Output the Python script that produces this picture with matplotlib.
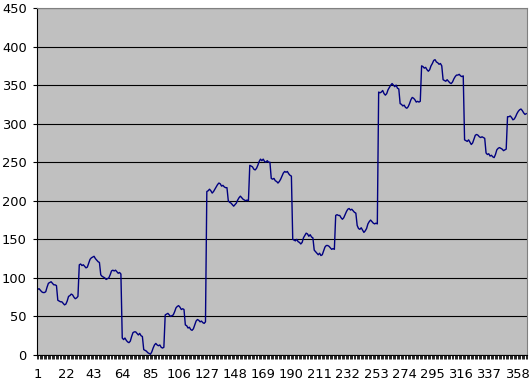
import matplotlib
matplotlib.use("Agg")
import matplotlib.pyplot as plt
import numpy as np

# values, one list per stretch of the series
days_001_031 = [85, 86, 84, 82, 81, 81, 82,
                88, 93, 94, 95, 93, 91, 91, 90,
                71, 70, 69, 69, 67, 65, 66, 70,
                76, 77, 79, 78, 75, 73, 74, 76]
days_032_063 = [117, 118, 116, 117, 115, 113, 114, 119,
                124, 126, 127, 128, 125, 123, 121, 120,
                104, 102, 101, 100, 98, 99, 100, 104,
                109, 110, 109, 110, 108, 106, 107, 105]
days_064_095 = [22, 20, 22, 19, 17, 16, 18, 24,
                29, 30, 30, 28, 26, 28, 25, 24,
                7, 6, 5, 3, 2, 1, 4, 9,
                13, 15, 13, 12, 13, 10, 9, 10]
days_096_126 = [52, 53, 54, 52, 50, 51, 52, 56,
                61, 63, 64, 62, 59, 60, 59,
                39, 38, 35, 36, 33, 32, 34, 39,
                44, 46, 45, 43, 44, 42, 41, 43]
days_127_158 = [212, 213, 215, 213, 210, 212, 215, 218,
                221, 223, 222, 219, 220, 218, 217, 217,
                200, 198, 197, 195, 193, 195, 197, 201,
                204, 206, 204, 202, 201, 200, 201, 200]
days_159_190 = [246, 245, 244, 241, 240, 242, 246, 251,
                254, 252, 254, 251, 250, 252, 250, 250,
                229, 228, 229, 226, 225, 223, 225, 228,
                232, 236, 238, 237, 238, 235, 233, 232]
days_191_222 = [150, 149, 148, 150, 147, 146, 144, 146,
                152, 155, 158, 157, 154, 156, 153, 152,
                136, 134, 132, 130, 132, 129, 130, 135,
                140, 142, 142, 141, 139, 137, 138, 137]
days_223_254 = [181, 182, 181, 181, 178, 176, 178, 182,
                186, 189, 190, 188, 189, 187, 185, 184,
                168, 164, 163, 165, 162, 159, 161, 164,
                170, 173, 175, 173, 171, 170, 171, 170]
days_255_286 = [341, 340, 341, 343, 339, 337, 339, 344,
                347, 350, 352, 350, 348, 350, 346, 345,
                326, 325, 323, 324, 321, 320, 322, 326,
                331, 334, 333, 331, 328, 329, 328, 329]
days_287_318 = [375, 374, 372, 373, 370, 368, 370, 375,
                378, 382, 383, 380, 379, 377, 378, 375,
                357, 356, 355, 357, 355, 353, 352, 354,
                358, 361, 363, 363, 364, 362, 361, 362]
days_319_350 = [279, 278, 277, 279, 276, 273, 275, 280,
                285, 286, 285, 283, 282, 283, 282, 281,
                262, 260, 261, 258, 259, 257, 256, 260,
                266, 268, 269, 268, 267, 265, 266, 267]
days_351_365 = [309, 309, 310, 308, 305, 306, 309, 313,
                316, 318, 319, 317, 314, 312, 313]

x_labels = [1, 22, 43, 64, 85, 106, 127, 148, 169, 190,
            211, 232, 253, 274, 295, 316, 337, 358]
y_ticks = [0, 50, 100, 150, 200, 250, 300, 350, 400, 450]

values = (days_001_031 + days_032_063 + days_064_095 + days_096_126
          + days_127_158 + days_159_190 + days_191_222 + days_223_254
          + days_255_286 + days_287_318 + days_319_350 + days_351_365)
days = np.arange(1, len(values) + 1)

fig = plt.figure(figsize=(5.30, 3.84), dpi=100)
ax = fig.add_axes([37 / 530, 29 / 384, 490 / 530, 347 / 384])
ax.set_facecolor('#c0c0c0')

ax.plot(days, values, color='#000080', lw=1.0)

ax.set_xlim(0.5, len(values) + 0.5)
ax.set_ylim(0, 450)
ax.set_yticks(y_ticks)
ax.yaxis.grid(True, color='black', lw=0.8)
ax.set_axisbelow(True)

ax.set_xticks(x_labels)
ax.set_xticklabels([str(v) for v in x_labels])
ax.set_xticks(np.arange(0.5, len(values) + 1), minor=True)
ax.tick_params(axis='x', which='major', length=0, pad=9.5, labelsize=9.4)
ax.tick_params(axis='x', which='minor', length=3, width=0.6, color='black')
ax.tick_params(axis='y', length=3, width=0.8, pad=4.3, labelsize=9.4)

for side in ('top', 'right'):
    ax.spines[side].set_color('#808080')
    ax.spines[side].set_linewidth(0.8)
for side in ('left', 'bottom'):
    ax.spines[side].set_color('black')
    ax.spines[side].set_linewidth(0.8)

fig.savefig('out.png', dpi=100, facecolor='white')
